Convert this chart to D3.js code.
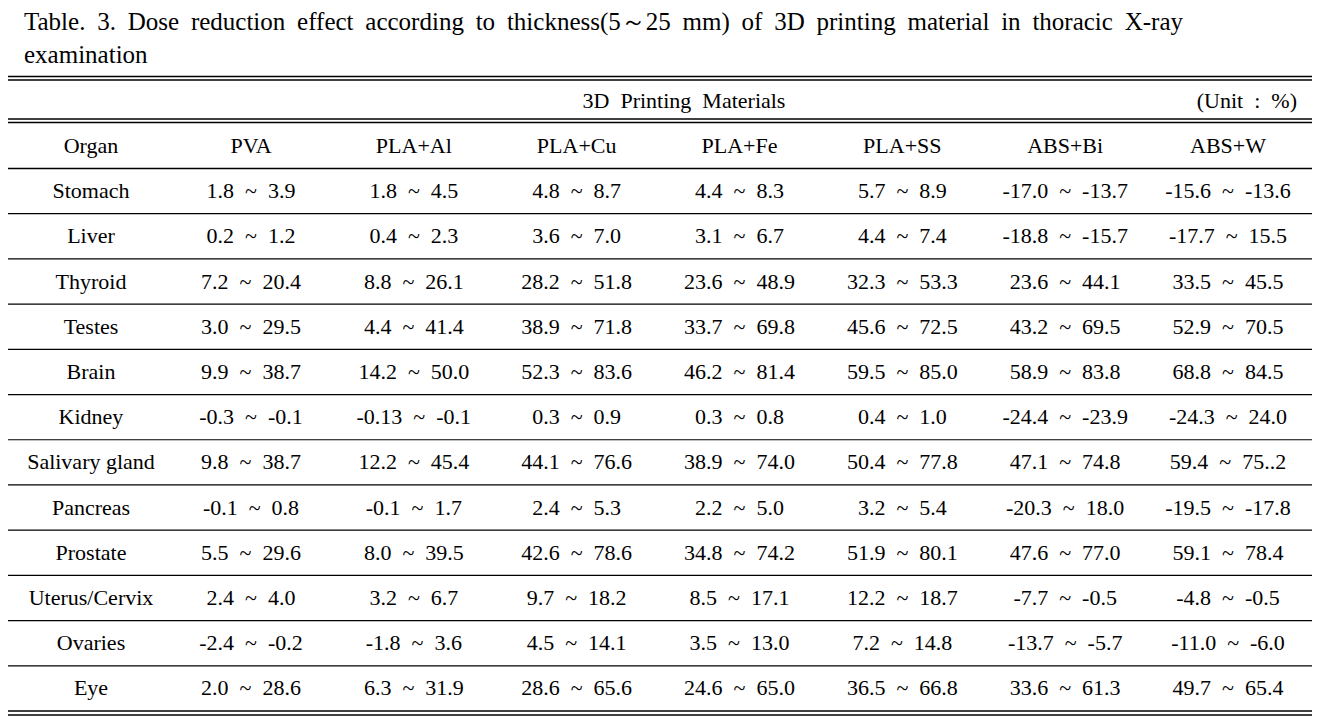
<!DOCTYPE html>
<html>
<head>
<meta charset="utf-8">
<script src="https://cdn.jsdelivr.net/npm/d3@7"></script>
<style>
  html, body { margin: 0; padding: 0; background: #fff; }
  svg text { font-family: "Liberation Serif", "Times New Roman", serif; fill: #000; white-space: pre; }
</style>
</head>
<body>
<svg id="chart" width="1322" height="727"></svg>
<script>
// ---- data ----
const titleLine1 = "Table. 3. Dose reduction effect according to thickness(5～25 mm) of 3D printing material in thoracic X-ray";
const titleLine2 = "examination";
const groupHeader = "3D  Printing  Materials";
const unitLabel = "(Unit  :  %)";
const organHeader = "Organ";
const materials = ["PVA", "PLA+Al", "PLA+Cu", "PLA+Fe", "PLA+SS", "ABS+Bi", "ABS+W"];
const organs = ["Stomach", "Liver", "Thyroid", "Testes", "Brain", "Kidney", "Salivary gland",
                "Pancreas", "Prostate", "Uterus/Cervix", "Ovaries", "Eye"];
const lowValues = [
  ["1.8", "1.8", "4.8", "4.4", "5.7", "-17.0", "-15.6"],
  ["0.2", "0.4", "3.6", "3.1", "4.4", "-18.8", "-17.7"],
  ["7.2", "8.8", "28.2", "23.6", "32.3", "23.6", "33.5"],
  ["3.0", "4.4", "38.9", "33.7", "45.6", "43.2", "52.9"],
  ["9.9", "14.2", "52.3", "46.2", "59.5", "58.9", "68.8"],
  ["-0.3", "-0.13", "0.3", "0.3", "0.4", "-24.4", "-24.3"],
  ["9.8", "12.2", "44.1", "38.9", "50.4", "47.1", "59.4"],
  ["-0.1", "-0.1", "2.4", "2.2", "3.2", "-20.3", "-19.5"],
  ["5.5", "8.0", "42.6", "34.8", "51.9", "47.6", "59.1"],
  ["2.4", "3.2", "9.7", "8.5", "12.2", "-7.7", "-4.8"],
  ["-2.4", "-1.8", "4.5", "3.5", "7.2", "-13.7", "-11.0"],
  ["2.0", "6.3", "28.6", "24.6", "36.5", "33.6", "49.7"]
];
const highValues = [
  ["3.9", "4.5", "8.7", "8.3", "8.9", "-13.7", "-13.6"],
  ["1.2", "2.3", "7.0", "6.7", "7.4", "-15.7", "15.5"],
  ["20.4", "26.1", "51.8", "48.9", "53.3", "44.1", "45.5"],
  ["29.5", "41.4", "71.8", "69.8", "72.5", "69.5", "70.5"],
  ["38.7", "50.0", "83.6", "81.4", "85.0", "83.8", "84.5"],
  ["-0.1", "-0.1", "0.9", "0.8", "1.0", "-23.9", "24.0"],
  ["38.7", "45.4", "76.6", "74.0", "77.8", "74.8", "75..2"],
  ["0.8", "1.7", "5.3", "5.0", "5.4", "18.0", "-17.8"],
  ["29.6", "39.5", "78.6", "74.2", "80.1", "77.0", "78.4"],
  ["4.0", "6.7", "18.2", "17.1", "18.7", "-0.5", "-0.5"],
  ["-0.2", "3.6", "14.1", "13.0", "14.8", "-5.7", "-6.0"],
  ["28.6", "31.9", "65.6", "65.0", "66.8", "61.3", "65.4"]
];

// ---- layout ----
const svg = d3.select("#chart");
const left = 8, right = 1312;
const fs = 22;

const x = d3.scalePoint().domain(materials).range([251, 1228]);
const organX = 91;
const y = d3.scaleBand().domain(organs).range([168.5, 711]);

// title (line 1 justified)
const tx0 = 24, tx1 = 1183;
const words = titleLine1.split(" ");
const tg = svg.append("g");
const wNodes = tg.selectAll("text.tw").data(words).join("text")
  .attr("class", "tw").attr("y", 30).style("font-size", "25px").text(d => d);
const widths = wNodes.nodes().map(n => n.getComputedTextLength());
const gap = (tx1 - tx0 - d3.sum(widths)) / (words.length - 1);
let cx = tx0;
wNodes.attr("x", (d, i) => { const v = cx; cx += widths[i] + gap; return v; });
tg.append("text").attr("x", tx0).attr("y", 63).style("font-size", "25px").text(titleLine2);

// rules
function rule(yy, sw) {
  svg.append("line").attr("x1", left).attr("x2", right).attr("y1", yy).attr("y2", yy)
    .attr("stroke", "#000").attr("stroke-width", sw);
}
rule(76.5, 1.6); rule(80, 1.6);
rule(119, 1.6); rule(122.5, 1.6);
organs.forEach((o, i) => { if (i > 0) rule(y(o), 1.2); });
rule(168.5, 1.4);
rule(711, 1.6); rule(715, 1.6);

// group header
svg.append("text").attr("x", 684).attr("y", 108).attr("text-anchor", "middle")
  .style("font-size", fs + "px").text(groupHeader);
svg.append("text").attr("x", 1297).attr("y", 108).attr("text-anchor", "end")
  .style("font-size", fs + "px").text(unitLabel);

// column headers
svg.append("text").attr("x", organX).attr("y", 153).attr("text-anchor", "middle")
  .style("font-size", fs + "px").text(organHeader);
svg.selectAll("text.mh").data(materials).join("text").attr("class", "mh")
  .attr("x", d => x(d)).attr("y", 153).attr("text-anchor", "middle")
  .style("font-size", fs + "px").text(d => d);

// body
const rows = svg.selectAll("g.row").data(organs).join("g").attr("class", "row")
  .attr("transform", d => `translate(0,${y(d) + y.bandwidth() / 2 + 7})`);
rows.append("text").attr("x", organX).attr("text-anchor", "middle")
  .style("font-size", fs + "px").text(d => d);
rows.each(function (o, i) {
  d3.select(this).selectAll("text.v").data(materials).join("text").attr("class", "v")
    .attr("x", m => x(m)).attr("text-anchor", "middle")
    .style("font-size", fs + "px")
    .text((m, j) => lowValues[i][j] + "  ~  " + highValues[i][j]);
});
</script>
</body>
</html>
